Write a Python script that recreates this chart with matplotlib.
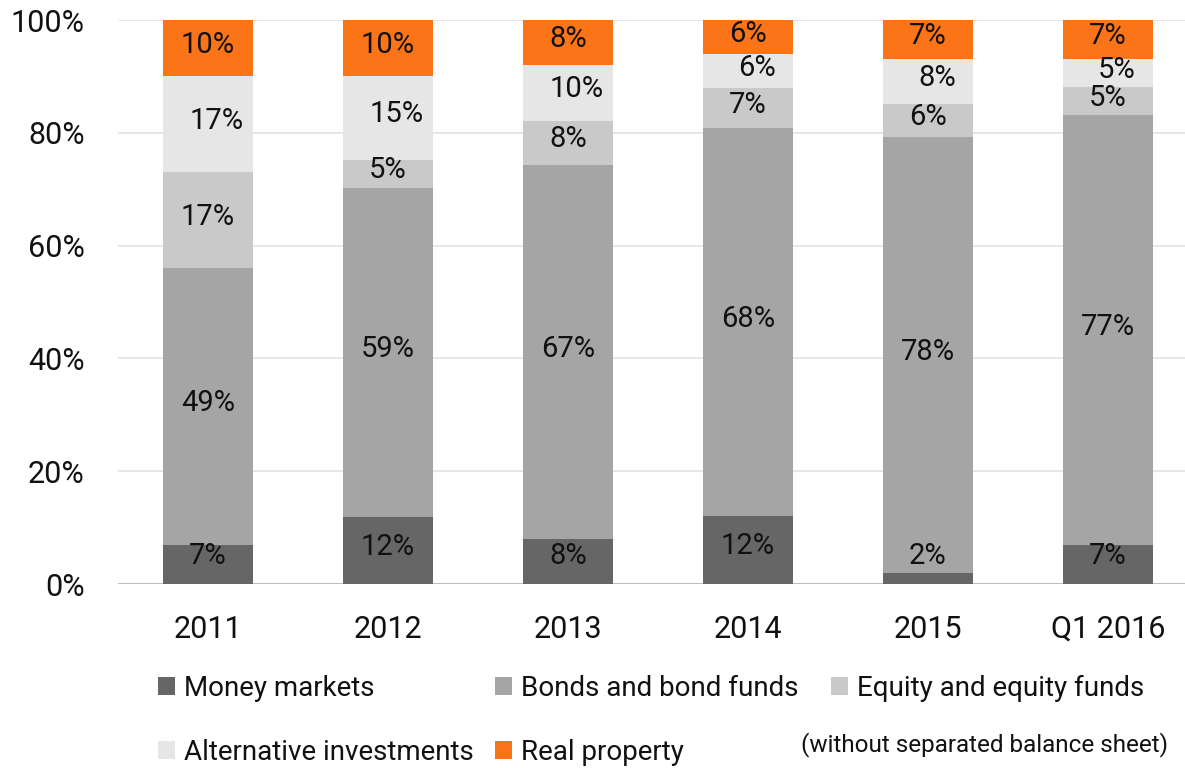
import matplotlib.pyplot as plt
import numpy as np
from matplotlib.patches import Patch

plt.rcParams['font.family'] = ['Roboto', 'DejaVu Sans']

years = ["2011", "2012", "2013", "2014", "2015", "Q1 2016"]
money_markets = [7, 12, 8, 12, 2, 7]
bonds = [49, 59, 67, 68, 78, 77]
equity = [17, 5, 8, 7, 6, 5]
alternative = [17, 15, 10, 6, 8, 5]
real_property = [10, 10, 8, 6, 7, 7]

series = [
    ("Money markets", money_markets, "#666666", 0.0),
    ("Bonds and bond funds", bonds, "#a5a5a5", 0.0),
    ("Equity and equity funds", equity, "#c9c9c9", 0.0),
    ("Alternative investments", alternative, "#e6e6e6", 0.05),
    ("Real property", real_property, "#fb7518", 0.0),
]

fig = plt.figure(figsize=(11.85, 7.68), dpi=100)
ax = fig.add_axes([118 / 1185, 184 / 768, 1080 / 1185, 564 / 768])

x = np.arange(len(years))
totals = np.sum([s[1] for s in series], axis=0).astype(float)
bottom = np.zeros(len(years))
handles = []
for name, vals, color, dx in series:
    vals = np.array(vals, dtype=float)
    share = vals / totals * 100  # 100% stacked
    ax.bar(x, share, 0.5, bottom=bottom, color=color, zorder=2)
    for xi, b, h, v in zip(x, bottom, share, vals):
        # keep labels of very thin segments readable
        y = max(b + h / 2 + 0.6, 5.0)
        ax.text(xi + dx, y, f"{v:.0f}%", ha="center", va="center",
                fontsize=21, color="#111111", zorder=3)
    bottom += share
    handles.append(Patch(facecolor=color, label=name))

ax.set_xlim(-0.5, 5.5)
ax.set_ylim(0, 100)
ax.set_yticks(range(0, 101, 20))
ax.set_yticklabels([f"{t}%" for t in range(0, 101, 20)])
ax.set_xticks(x)
ax.set_xticklabels(years)
ax.tick_params(axis="both", length=0, labelsize=22, labelcolor="#111111")
ax.tick_params(axis="y", pad=24)
ax.tick_params(axis="x", pad=22)
ax.yaxis.grid(True, color="#e3e3e3", linewidth=1.2, zorder=0)
ax.set_axisbelow(True)
for s in ax.spines.values():
    s.set_visible(False)
ax.axhline(0, color="#c0c0c0", linewidth=1.5, zorder=1)

# legend entries placed individually (two rows)
legend_pos = [(158, 688), (495, 688), (831, 688), (158, 752), (495, 752)]
for h, (px, py) in zip(handles, legend_pos):
    fig.legend([h], [h.get_label()], loc="center left",
               bbox_to_anchor=(px / 1185, 1 - py / 768), frameon=False,
               fontsize=20, handlelength=0.62, handleheight=0.62,
               handletextpad=0.3, borderaxespad=0, borderpad=0,
               labelcolor="#111111")

fig.text(1168 / 1185, 1 - 745 / 768, "(without separated balance sheet)",
         ha="right", va="center", fontsize=17.5, color="#111111")

fig.savefig("out.png", dpi=100)
